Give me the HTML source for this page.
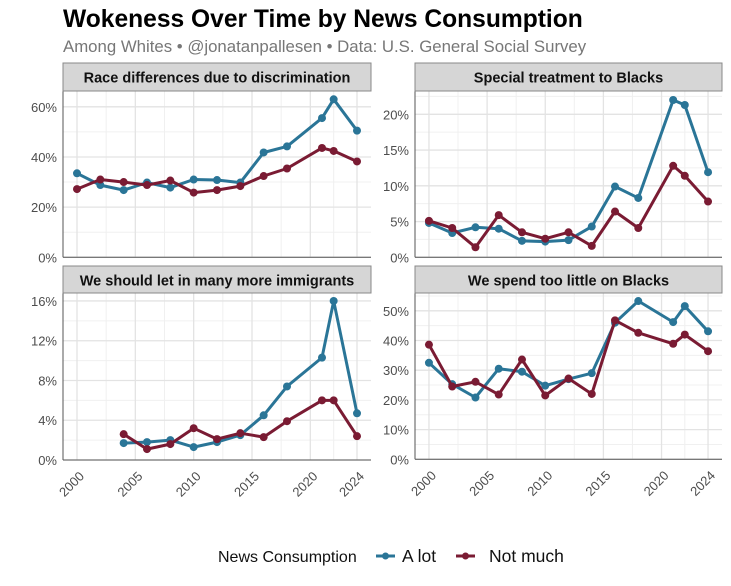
<!DOCTYPE html>
<html><head><meta charset="utf-8"><style>
body{margin:0;background:#fff;}
svg{display:block;font-family:"Liberation Sans",Arial,sans-serif;}
</style></head><body>
<svg id="chart" width="731" height="586" viewBox="0 0 731 586" xmlns="http://www.w3.org/2000/svg">
<text x="63" y="27" font-size="24.6" font-weight="bold" fill="#000">Wokeness Over Time by News Consumption</text>
<text x="63" y="52" font-size="16.8" fill="#777">Among Whites  • @jonatanpallesen • Data: U.S. General Social Survey</text>
<g id="panels"></g>
<g>
<text x="218" y="562" font-size="16" fill="#111">News Consumption</text>
<g>
<line x1="376" y1="556" x2="395" y2="556" stroke="#2a7597" stroke-width="3"/><circle cx="385.5" cy="556" r="3.5" fill="#2a7597"/>
<text x="402" y="562" font-size="17.5" fill="#111">A lot</text></g>
<g>
<line x1="456" y1="556" x2="475" y2="556" stroke="#7a1b33" stroke-width="3"/><circle cx="465.5" cy="556" r="3.5" fill="#7a1b33"/>
<text x="489" y="562" font-size="17.5" fill="#111">Not much</text></g>
</g>
</svg>
<script>
const years = [2000,2002,2004,2006,2008,2010,2012,2014,2016,2018,2021,2022,2024];
const yearsImm = [2004,2006,2008,2010,2012,2014,2016,2018,2021,2022,2024];
const raceALot = [33.5,28.8,26.8,29.8,27.8,31,30.8,29.8,41.8,44.2,55.5,63,50.5];
const raceNotMuch = [27.2,31,30,28.8,30.6,25.8,26.8,28.4,32.4,35.4,43.6,42.4,38.2];
const specALot = [4.8,3.4,4.2,4.0,2.3,2.2,2.4,4.3,9.9,8.3,22.0,21.3,11.9];
const specNotMuch = [5.1,4.1,1.4,5.9,3.5,2.6,3.5,1.6,6.4,4.1,12.8,11.4,7.8];
const immALot = [1.7,1.8,2.0,1.3,1.8,2.5,4.5,7.4,10.3,16.0,4.7];
const immNotMuch = [2.6,1.1,1.6,3.2,2.1,2.7,2.3,3.9,6.0,6.0,2.4];
const spendALot = [32.5,25.3,20.8,30.5,29.5,24.8,27.0,29.0,46.0,53.3,46.2,51.6,43.1];
const spendNotMuch = [38.6,24.5,26.1,21.8,33.6,21.5,27.2,22.0,46.8,42.6,38.9,42.0,36.4];
const xTicks = [2000,2005,2010,2015,2020,2024];
const xMinor = [2002.5,2007.5,2012.5,2017.5,2022];
const raceTicks = [0,20,40,60];
const specTicks = [0,5,10,15,20];
const immTicks = [0,4,8,12,16];
const spendTicks = [0,10,20,30,40,50];

const NS="http://www.w3.org/2000/svg";
const root=document.getElementById('panels');
function mk(tag,attrs,parent){const e=document.createElementNS(NS,tag);for(const k in attrs)e.setAttribute(k,attrs[k]);(parent||root).appendChild(e);return e;}

const panels=[
 {name:'race',title:'Race differences due to discrimination',x0:63,x1:371,stripTop:63,top:91,bottom:257.3,ymax:66.3,ticks:raceTicks,xs:years,a:raceALot,n:raceNotMuch,xlab:false},
 {name:'special',title:'Special treatment to Blacks',x0:415,x1:722,stripTop:63,top:91,bottom:257.3,ymax:23.26,ticks:specTicks,xs:years,a:specALot,n:specNotMuch,xlab:false},
 {name:'immigrants',title:'We should let in many more immigrants',x0:63,x1:371,stripTop:266,top:293,bottom:460,ymax:16.8,ticks:immTicks,xs:yearsImm,a:immALot,n:immNotMuch,xlab:true},
 {name:'spend',title:'We spend too little on Blacks',x0:415,x1:722,stripTop:266,top:293,bottom:459.3,ymax:56,ticks:spendTicks,xs:years,a:spendALot,n:spendNotMuch,xlab:true}
];
panels.forEach(p=>{
 const g=mk('g',{});
 
 
 const w=p.x1-p.x0;
 const xs=v=>p.x0+(v-1998.8)/(26.4)*w;
 const ys=v=>p.bottom-v/p.ymax*(p.bottom-p.top);
 for(let i=0;i<p.ticks.length;i++){
  const half=(p.ticks[1]-p.ticks[0])/2;
  const mv=p.ticks[i]+half;
  if(mv<p.ymax){mk('line',{x1:p.x0,x2:p.x1,y1:ys(mv),y2:ys(mv),stroke:'#f0f0f0','stroke-width':1},g);}
 }
 xMinor.forEach(v=>{mk('line',{x1:xs(v),x2:xs(v),y1:p.top,y2:p.bottom,stroke:'#f0f0f0','stroke-width':1},g);});
 p.ticks.forEach(t=>{
  mk('line',{x1:p.x0,x2:p.x1,y1:ys(t),y2:ys(t),stroke:'#e3e3e3','stroke-width':1.3},g);
  const tx=mk('text',{x:p.x0-6,y:ys(t)+5,'font-size':13,'text-anchor':'end',fill:'#4d4d4d'},g);
  tx.textContent=t+'%';
  
  
 });
 xTicks.forEach(t=>{
  mk('line',{x1:xs(t),x2:xs(t),y1:p.top,y2:p.bottom,stroke:'#e3e3e3','stroke-width':1.3},g);
  if(p.xlab){
   const ax=xs(t)+8, ay=p.bottom+17;
   const tx=mk('text',{x:ax,y:ay,'font-size':13,'text-anchor':'end',fill:'#4d4d4d',transform:`rotate(-45 ${ax} ${ay})`},g);
   tx.textContent=t;
   
   
  }
 });
 mk('line',{x1:p.x0,x2:p.x1,y1:p.bottom,y2:p.bottom,stroke:'#555','stroke-width':1},g);
 mk('line',{x1:p.x0,x2:p.x0,y1:p.top,y2:p.bottom,stroke:'#555','stroke-width':1},g);
 const strip=mk('rect',{x:p.x0,y:p.stripTop,width:w,height:p.top-p.stripTop,fill:'#d6d6d6',stroke:'#888','stroke-width':1},g);
 
 
 const st=mk('text',{x:p.x0+w/2,y:p.stripTop+19.5,'font-size':14.5,'font-weight':'bold','text-anchor':'middle',fill:'#111'},g);
 st.textContent=p.title;
 
 
 [[p.a,'#2a7597','a-lot'],[p.n,'#7a1b33','not-much']].forEach(([arr,col,nm])=>{
  const pts=arr.map((v,i)=>xs(p.xs[i]).toFixed(1)+','+ys(v).toFixed(1)).join(' ');
  const pl=mk('polyline',{points:pts,fill:'none',stroke:col,'stroke-width':3,'stroke-linejoin':'round'},g);
  
  
  arr.forEach((v,i)=>{
   const c=mk('circle',{cx:xs(p.xs[i]),cy:ys(v),r:4,fill:col},g);
   
   
  });
 });
});
</script>
</body></html>
